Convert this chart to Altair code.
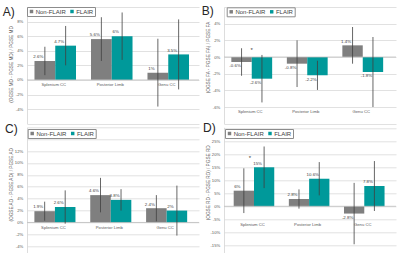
import altair as alt
import pandas as pd

FONT = "Liberation Sans"

categories = ["Splenium CC", "Posterior Limb", "Genu CC"]
series = ["Non-FLAIR", "FLAIR"]
colors = ["#7f7f7f", "#00999a"]

# A) MD
md_nonflair = [2.6, 5.6, 1.0]
md_flair = [4.7, 6.0, 3.5]
md_nonflair_sd = [1.95, 3.0, 4.65]
md_flair_sd = [2.7, 3.25, 4.8]

# B) FA
fa_nonflair = [-0.6, -0.8, 1.4]
fa_flair = [-2.6, -2.2, -1.8]
fa_nonflair_sd = [1.65, 2.8, 2.2]
fa_flair_sd = [2.85, 1.75, 4.2]

# C) AD
ad_nonflair = [1.9, 4.6, 2.4]
ad_flair = [2.6, 3.8, 2.0]
ad_nonflair_sd = [1.6, 2.9, 2.2]
ad_flair_sd = [2.8, 1.8, 4.2]

# D) RD
rd_nonflair = [6.0, 2.8, -2.8]
rd_flair = [15.0, 10.6, 7.8]
rd_nonflair_sd = [8.6, 3.7, 11.8]
rd_flair_sd = [8.0, 6.4, 9.6]

# significance markers
star_b_cat = ["Splenium CC"]
star_b_val = [1.0]
star_d_cat = ["Splenium CC"]
star_d_val = [19.2]


def make_df(nf, fl, nf_sd, fl_sd):
    rows = []
    for s, vals, sds in [(series[0], nf, nf_sd), (series[1], fl, fl_sd)]:
        for c, v, sd in zip(categories, vals, sds):
            rows.append(dict(cat=c, ser=s, val=v, lo=v - sd, hi=v + sd, lab=f"{v:g}%"))
    return pd.DataFrame(rows)


def panel(df, letter, ytitle, domain, gridvals, lab_lo, lab_hi, height, width,
          x_po, x_align, cat_y, title_y, legend_xy, letter_xy,
          star_cats=None, star_vals=None, star_dx=0, anchor=False):
    xscale = alt.Scale(paddingInner=0, paddingOuter=x_po, align=x_align)
    x = alt.X("cat:N", sort=categories, axis=None, scale=xscale)
    xo = alt.XOffset("ser:N", sort=series, scale=alt.Scale(paddingInner=0, paddingOuter=0.36))
    yscale = alt.Scale(domain=domain, nice=False, zero=False)
    yaxis = alt.Axis(
        values=gridvals,
        labelExpr=f"(datum.value > {lab_hi} || datum.value < {lab_lo}) ? '' : datum.value + '%'",
        labelOverlap=False, labelFlush=False, labelBound=False,
        title=ytitle, titleX=-16, titleY=title_y, titleBaseline="middle", titleAlign="center",
        titleFontSize=4.7, titleColor="#595959", titleFont=FONT, titleFontWeight="normal",
        labelFontSize=4.2, labelColor="#595959", labelFont=FONT, labelPadding=4.3,
        ticks=False, domain=True, domainColor="#d4d4d4", domainWidth=0.8,
        grid=True, gridColor="#d9d9d9", gridWidth=0.8,
    )

    def Y(field):
        return alt.Y(field, scale=yscale, axis=yaxis, title=ytitle)

    base = alt.Chart(df)
    bars = base.mark_bar().encode(
        x=x, xOffset=xo,
        y=Y("val:Q"),
        y2=alt.datum(0),
        color=alt.Color("ser:N", sort=series,
                        scale=alt.Scale(domain=series, range=colors),
                        legend=alt.Legend(
                            orient="none", legendX=legend_xy[0], legendY=legend_xy[1],
                            direction="horizontal", title=None, symbolType="square",
                            symbolSize=12, symbolStrokeWidth=0, labelFontSize=6,
                            labelFont=FONT, labelColor="#404040", strokeColor="#8c8c8c",
                            fillColor="white", padding=1.5, columnPadding=2.5,
                            labelOffset=1.2)),
    )
    zero = alt.Chart(pd.DataFrame({"z": [0]})).mark_rule(color="#bfbfbf", strokeWidth=0.8).encode(
        y=Y("z:Q"))
    err = base.mark_rule(color="#404040", strokeWidth=0.8).encode(
        x=x, xOffset=xo, y=Y("lo:Q"), y2="hi:Q")
    lab_pos = base.transform_filter("datum.val >= 0").mark_text(
        fontSize=4.4, font=FONT, color="#404040", baseline="alphabetic", dx=-6.5, dy=-2.7
    ).encode(x=x, xOffset=xo, y=Y("val:Q"), text="lab:N")
    lab_neg = base.transform_filter("datum.val < 0").mark_text(
        fontSize=4.4, font=FONT, color="#404040", baseline="alphabetic", dx=-6.5, dy=5.2
    ).encode(x=x, xOffset=xo, y=Y("val:Q"), text="lab:N")
    cats = alt.Chart(pd.DataFrame({"cat": categories, "cy": [cat_y] * 3})).mark_text(
        fontSize=4.2, font=FONT, color="#595959", baseline="middle", dx=-1.5
    ).encode(x=x, y=Y("cy:Q"), text="cat:N")
    letter_t = alt.Chart(pd.DataFrame({"t": [letter]})).mark_text(
        align="left", baseline="alphabetic", fontSize=12, font=FONT, color="#262626"
    ).encode(x=alt.value(letter_xy[0]), y=alt.value(letter_xy[1]), text="t:N")
    layers = [bars, zero, err, lab_pos, lab_neg, cats, letter_t]
    if star_cats:
        stars = alt.Chart(pd.DataFrame({"cat": star_cats, "v": star_vals})).mark_text(
            fontSize=6, font=FONT, color="#404040", baseline="middle", dx=star_dx, dy=1.4, text="*"
        ).encode(x=x, y=Y("v:Q"))
        layers.append(stars)
    if anchor:
        anc = alt.Chart(pd.DataFrame({"a": [0]})).mark_rule(strokeOpacity=0).encode(
            x=alt.value(-27), x2=alt.value(-26), y=alt.value(-7), y2=alt.value(-7))
        layers.append(anc)
    return alt.layer(*layers).properties(width=width, height=height)


pA = panel(make_df(md_nonflair, md_flair, md_nonflair_sd, md_flair_sd), "A)",
           "(OGSE MD - PGSE MD) / PGSE MD", [-6, 10], list(range(-6, 11, 2)), -4, 8,
           116.7, 172, 0.0221, 0.0, -0.72, 57, (0, 0), (-24.3, 8.5), anchor=True)
pB = panel(make_df(fa_nonflair, fa_flair, fa_nonflair_sd, fa_flair_sd), "B)",
           "(OGSE FA - PGSE FA) / PGSE FA", [-8, 6], list(range(-8, 7, 2)), -6, 4,
           116.7, 172, 0.0495, 0.0, -6.56, 50, (2.7, 0.3), (-22.3, 8),
           star_cats=star_b_cat, star_vals=star_b_val)
pC = panel(make_df(ad_nonflair, ad_flair, ad_nonflair_sd, ad_flair_sd), "C)",
           "(OGSE AD - PGSE AD) / PGSE AD", [-5.18, 16], list(range(-4, 17, 2)), -4, 12,
           126, 172, 0.0398, 0.0, -0.92, 57, (0.7, 1.7), (-22, 5.7))
pD = panel(make_df(rd_nonflair, rd_flair, rd_nonflair_sd, rd_flair_sd), "D)",
           "(OGSE RD - PGSE RD) / PGSE RD", [-18.08, 30.38], list(range(-15, 31, 5)), -15, 25,
           126, 172, 0.0594, 0.366, -7.19, 55, (1, 1.7), (-21, 5),
           star_cats=star_d_cat, star_vals=star_d_val, star_dx=-4)

chart = alt.concat(pA, pB, pC, pD, columns=2, spacing={"row": 3.3, "column": 25},
                   bounds="flush", align="each").resolve_scale(
    x="independent", y="independent", color="independent", xOffset="independent"
).resolve_legend(color="independent").properties(
    padding=0, background="white").configure_view(strokeWidth=0, stroke="transparent")

chart.save("out.html", embed_options={"renderer": "svg", "actions": False})
